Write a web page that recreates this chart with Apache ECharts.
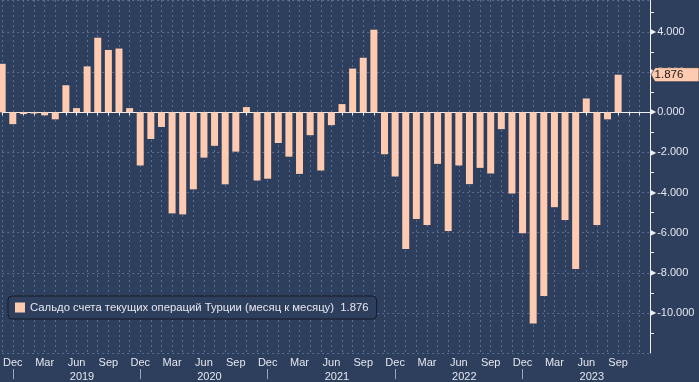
<!DOCTYPE html>
<html>
<head>
<meta charset="utf-8">
<script src="https://cdn.jsdelivr.net/npm/echarts@6/dist/echarts.min.js"></script>
<style>
html,body{margin:0;padding:0;background:#2e3e5d;}
#c{width:699px;height:382px;}
</style>
</head>
<body>
<div id="c"></div>
<script>
// Monthly categories, Nov 2018 .. Dec 2023
var categories = [
 '2018-11','2018-12',
 '2019-01','2019-02','2019-03','2019-04','2019-05','2019-06','2019-07','2019-08','2019-09','2019-10','2019-11','2019-12',
 '2020-01','2020-02','2020-03','2020-04','2020-05','2020-06','2020-07','2020-08','2020-09','2020-10','2020-11','2020-12',
 '2021-01','2021-02','2021-03','2021-04','2021-05','2021-06','2021-07','2021-08','2021-09','2021-10','2021-11','2021-12',
 '2022-01','2022-02','2022-03','2022-04','2022-05','2022-06','2022-07','2022-08','2022-09','2022-10','2022-11','2022-12',
 '2023-01','2023-02','2023-03','2023-04','2023-05','2023-06','2023-07','2023-08','2023-09','2023-10','2023-11','2023-12'
];
// Current account balance, bn USD (month over month)
var balance = [
 2.42, -0.59,
 -0.09, -0.06, -0.15, -0.35, 1.35, 0.21, 2.29, 3.72, 3.11, 3.18, 0.21, -2.65,
 -1.33, -0.73, -5.04, -5.09, -3.84, -2.26, -1.67, -3.59, -1.96, 0.26, -3.40, -3.31,
 -1.53, -2.21, -3.07, -1.14, -2.90, -0.64, 0.41, 2.18, 2.72, 4.12, -2.09, -3.20,
 -6.82, -5.32, -5.62, -2.57, -5.92, -2.65, -3.58, -2.77, -3.05, -0.84, -4.05, -6.03,
 -10.53, -9.16, -4.73, -5.37, -7.81, 0.69, -5.62, -0.35, 1.876, null, null, null
];
var seriesName = 'Сальдо счета текущих операций Турции (месяц к месяцу)';
var monthLabels = {'12':'Dec','03':'Mar','06':'Jun','09':'Sep'};
var yearLabelMonth = '06';
var lastValue = 1.876;
var tagCategory = '2023-12';

var BG = '#2e3e5d';
var BAR = '#ffcbb0';
var GRID = '#5a6d92';
var TXT = '#e4e7ee';
var FONT = 'Liberation Sans';
var LAST = categories.length - 1;

function fmt3(v){ return v.toFixed(3); }

var chart = echarts.init(document.getElementById('c'));
chart.setOption({
  backgroundColor: BG,
  animation: false,
  textStyle: {fontFamily: FONT},
  grid: {left: 2, right: 49, top: 0, bottom: 26, containLabel: false},
  legend: {
    show: true,
    left: 8, top: 296,
    padding: [6, 8, 6, 7],
    borderColor: '#141b2b', borderWidth: 1, borderRadius: 4,
    backgroundColor: BG,
    itemWidth: 10, itemHeight: 10, itemGap: 5,
    icon: 'rect',
    textStyle: {color: TXT, fontSize: 11.3, fontFamily: FONT},
    formatter: function(n){ return n + '  ' + fmt3(lastValue); },
    data: [seriesName]
  },
  xAxis: [{
    type: 'category',
    data: categories,
    boundaryGap: false,
    position: 'bottom',
    axisLine: {show: true, lineStyle: {color: '#f0f0f0', width: 1}},
    axisTick: {show: true, interval: 0, length: 3, lineStyle: {color: '#f0f0f0'}},
    axisLabel: {
      show: true, margin: 4,
      interval: function(i, v){ return i < LAST && !!monthLabels[v.slice(5)]; },
      color: TXT, fontSize: 11, fontFamily: FONT,
      formatter: function(v){ return monthLabels[v.slice(5)] || ''; }
    },
    splitLine: {show: true, interval: 0, lineStyle: {color: GRID, type: [2, 3], width: 1}}
  }, {
    type: 'category',
    data: categories,
    boundaryGap: false,
    position: 'bottom',
    offset: 16,
    axisLine: {show: false},
    axisTick: {
      show: true, length: 10,
      interval: function(i, v){ return i < LAST && v.slice(5) === '12'; },
      lineStyle: {color: '#9aa6bd'}
    },
    axisLabel: {
      show: true, margin: 2,
      interval: function(i, v){ return v.slice(5) === yearLabelMonth; },
      formatter: function(v){ return '{y|' + v.slice(0, 4) + '}'; },
      rich: {y: {color: TXT, fontSize: 11, fontFamily: FONT, padding: [0, 0, 0, 11]}}
    },
    splitLine: {show: false}
  }],
  yAxis: {
    type: 'value',
    position: 'right',
    min: -12, max: 5.6, interval: 2,
    axisLine: {show: true, lineStyle: {color: '#f0f0f0', width: 1}},
    axisTick: {show: false},
    minorTick: {show: true, splitNumber: 2, length: 4, lineStyle: {color: '#f0f0f0'}},
    axisLabel: {
      show: true, margin: 0, showMinLabel: false, showMaxLabel: false,
      formatter: function(v){ return '{t|▶}{v|' + fmt3(v) + '}'; },
      rich: {
        t: {color: '#f0f0f0', fontSize: 8, fontFamily: 'DejaVu Sans', padding: [0, 1, 0, 0]},
        v: {color: TXT, fontSize: 11, fontFamily: FONT}
      }
    },
    splitLine: {show: true, lineStyle: {color: GRID, type: [2, 3], width: 1}}
  },
  series: [{
    name: seriesName,
    type: 'bar',
    data: balance,
    barWidth: 7,
    clip: false,
    itemStyle: {color: BAR},
    markPoint: {
      silent: true,
      symbol: 'path://M0,5 L4,0 L48,0 L48,10 L4,10 Z',
      symbolSize: [48, 14],
      symbolKeepAspect: false,
      symbolOffset: [25, 0],
      itemStyle: {color: BAR, borderColor: '#1d2535', borderWidth: 0.5},
      label: {
        show: true, position: 'inside', offset: [-6, 0],
        color: '#1a1a1a', fontSize: 11.5, fontFamily: FONT,
        formatter: function(){ return fmt3(lastValue); }
      },
      data: [{coord: [tagCategory, lastValue]}]
    }
  }]
});
</script>
</body>
</html>
